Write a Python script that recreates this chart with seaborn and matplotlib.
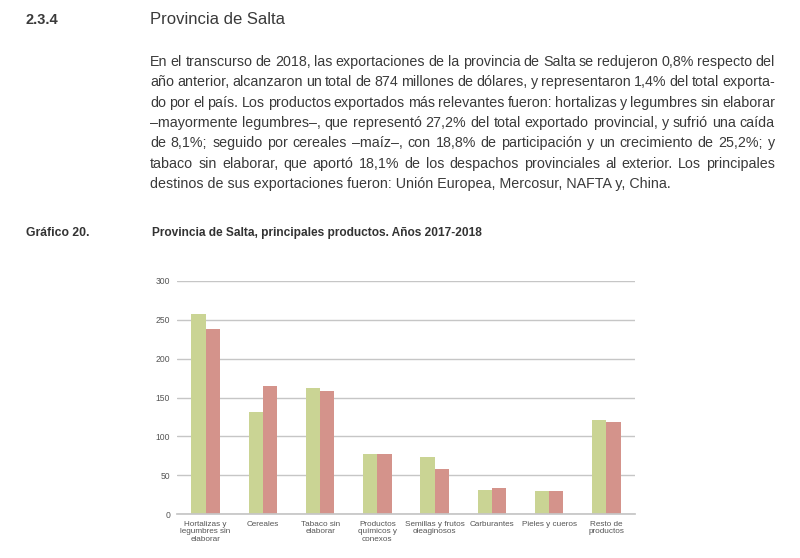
import matplotlib
matplotlib.use("Agg")
import matplotlib.pyplot as plt
from matplotlib import font_manager
import seaborn as sns
import pandas as pd
import numpy as np

categories = ["Hortalizas y\nlegumbres sin\nelaborar", "Cereales", "Tabaco sin\nelaborar",
              "Productos\nquímicos y\nconexos", "Semillas y frutos\noleaginosos",
              "Carburantes", "Pieles y cueros", "Resto de\nproductos"]
years = ["2017", "2018"]
values_2017 = [258, 131, 162, 77, 74, 31, 30, 121]
values_2018 = [238, 165, 159, 77, 58, 34, 29, 119]
y_ticks = [0, 50, 100, 150, 200, 250, 300]

paragraph = [
    "En el transcurso de 2018, las exportaciones de la provincia de Salta se redujeron 0,8% respecto del",
    "año anterior, alcanzaron un total de 874 millones de dólares, y representaron 1,4% del total exporta-",
    "do por el país. Los productos exportados más relevantes fueron: hortalizas y legumbres sin elaborar",
    "–mayormente legumbres–, que representó 27,2% del total exportado provincial, y sufrió una caída",
    "de 8,1%; seguido por cereales –maíz–, con 18,8% de participación y un crecimiento de 25,2%; y",
    "tabaco sin elaborar, que aportó 18,1% de los despachos provinciales al exterior. Los principales",
    "destinos de sus exportaciones fueron: Unión Europea, Mercosur, NAFTA y, China.",
]

sns.set_theme(style="white")
names = {f.name for f in font_manager.fontManager.ttflist}
narrow = "Liberation Sans Narrow" if "Liberation Sans Narrow" in names else "Liberation Sans"
plt.rcParams["font.family"] = [narrow, "DejaVu Sans"]

df = pd.DataFrame({
    "cat": categories * 2,
    "year": [years[0]] * len(categories) + [years[1]] * len(categories),
    "val": values_2017 + values_2018,
})

W, H = 800, 558
fig = plt.figure(figsize=(W / 100, H / 100), dpi=100)
fig.patch.set_facecolor("white")

def px(x, y):
    return x / W, 1 - y / H

ax = fig.add_axes([177 / W, 1 - 514 / H, (635 - 177) / W, (514 - 281) / H])
sns.barplot(data=df, x="cat", y="val", hue="year", order=categories,
            palette=["#cad494", "#d4938b"], width=0.5, gap=0, ax=ax,
            legend=False, saturation=1, linewidth=0)
ax.set_ylim(0, 300)
ax.set_xlim(-0.5, len(categories) - 0.5)
ax.set_yticks(y_ticks)
ax.set_yticklabels([str(t) for t in y_ticks], fontsize=6.2, color="#555555", family="Liberation Sans")
ax.yaxis.grid(True, color="#c6c6c6", linewidth=1)
ax.set_axisbelow(True)
ax.set_xlabel("")
ax.set_ylabel("")
for s in ["top", "right", "left"]:
    ax.spines[s].set_visible(False)
ax.spines["bottom"].set_color("#c6c6c6")
ax.tick_params(axis="y", length=0, pad=5)
ax.set_xticks(range(len(categories)))
ax.set_xticklabels(categories, fontsize=5.9, color="#555555", family="Liberation Sans", linespacing=1.1)
ax.tick_params(axis="x", length=0, pad=5)
ax.set_xticks(np.arange(-0.5, len(categories) + 0.5, 1), minor=True)
ax.tick_params(axis="x", which="minor", length=3, color="#c6c6c6", width=0.8)

# Header texts
txtcol = "#3a3a3a"
fig.text(*px(26, 20), "2.3.4", fontsize=10.5, color=txtcol, va="center", ha="left",
         family="Liberation Sans", fontweight="bold")
fig.text(*px(150, 20), "Provincia de Salta", fontsize=12, color=txtcol, va="center", ha="left", family="Liberation Sans")

fig.canvas.draw()
renderer = fig.canvas.get_renderer()

x0, x1 = 150, 775
y_lines = [62, 82, 103, 123, 143, 164, 184]
fs = 10.3
for i, line in enumerate(paragraph):
    y = y_lines[i]
    if i == len(paragraph) - 1:
        fig.text(*px(x0, y), line, fontsize=fs, color=txtcol, va="center", ha="left")
        continue
    words = line.split(" ")
    arts = [fig.text(0, 0, w, fontsize=fs, color=txtcol, va="center", ha="left") for w in words]
    widths = [a.get_window_extent(renderer).width for a in arts]
    total = sum(widths)
    gap = (x1 - x0 - total) / (len(words) - 1)
    xx = x0
    for a, w in zip(arts, widths):
        a.set_position(px(xx, y))
        xx += w + gap

fig.text(*px(26, 233), "Gráfico 20.", fontsize=8.8, color="#333333", va="center", ha="left", fontweight="bold")
fig.text(*px(152, 233), "Provincia de Salta, principales productos. Años 2017-2018", fontsize=8.6,
         color="#333333", va="center", ha="left", fontweight="bold")

fig.savefig("out.png", dpi=100, facecolor="white")
